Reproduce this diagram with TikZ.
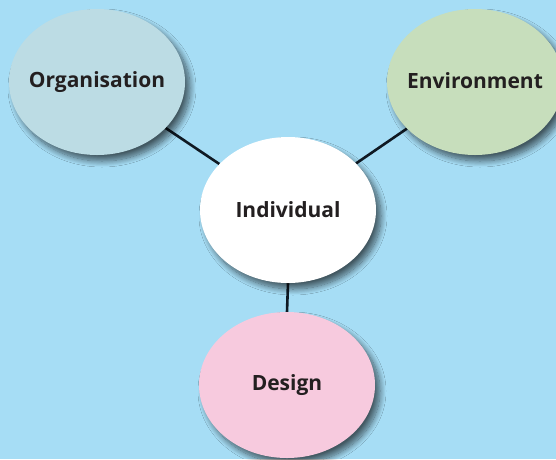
\documentclass[tikz,border=0pt]{standalone}
\usepackage{fontspec}
\setmainfont{Open Sans}
\usetikzlibrary{shapes.geometric,shadows.blur,backgrounds}
\definecolor{bgc}{RGB}{166,221,245}
\definecolor{orgc}{RGB}{188,220,228}
\definecolor{envc}{RGB}{199,222,188}
\definecolor{desc}{RGB}{247,202,222}
\definecolor{txtc}{RGB}{35,31,32}
\definecolor{linec}{RGB}{15,25,35}
\tikzset{
  blob/.style={ellipse, minimum width=176pt, minimum height=146pt, inner sep=0pt,
    text=txtc, font=\bfseries\fontsize{21}{24}\selectfont,
    blur shadow={shadow xshift=5pt, shadow yshift=-6pt, shadow blur radius=6pt, shadow blur steps=12, shadow opacity=60}},
  link/.style={draw=linec, line width=2.6pt}
}
\begin{document}
\begin{tikzpicture}[x=1pt,y=-1pt]
\useasboundingbox (0,0) rectangle (556,459);
\clip (0,0) rectangle (556,459);
\node[blob, fill=orgc] (org) at (97,82) {\makebox[0pt]{\raisebox{2pt}{Organisation}}};
\node[blob, fill=envc] (env) at (475,82) {\makebox[0pt]{\raisebox{2pt}{Environment}}};
\node[blob, fill=white] (ind) at (288,210) {\makebox[0pt]{Individual}};
\node[blob, fill=desc] (des) at (287,385) {\makebox[0pt]{Design}};
\begin{scope}[on background layer]
\fill[bgc] (0,0) rectangle (556,459);
\draw[link] (org) -- (ind);
\draw[link] (env) -- (ind);
\draw[link] (ind.south) -- (des.north);
\end{scope}
\end{tikzpicture}
\end{document}
